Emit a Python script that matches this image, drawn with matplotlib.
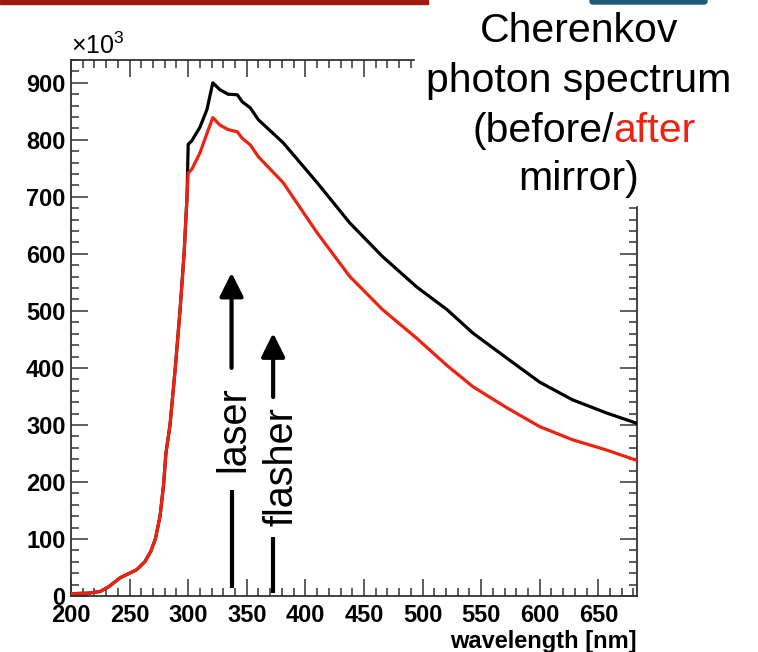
import matplotlib
matplotlib.use("Agg")
import matplotlib.pyplot as plt
from matplotlib.patches import FancyBboxPatch, Rectangle
from matplotlib.text import Annotation
from matplotlib.ticker import MultipleLocator


# ------------------------------------------
# Spectrum data (photons per nm, x10^3)
# ------------------------------------------

wavelength = [200, 215, 225, 232, 242, 250, 256, 263, 268, 272, 276, 279, 281,
              284.5, 289, 293, 296.5, 299, 300, 303, 310, 316, 321, 327, 334,
              342, 346, 353, 360, 381, 410, 438, 466, 495, 521, 543, 572, 600,
              628, 657, 684]

before_mirror = [4, 5, 8, 16, 32, 40, 46, 60, 78, 100, 140, 195, 250,
                 300, 400, 500, 600, 700, 792, 798, 822, 853, 900, 888, 880,
                 879, 867, 856, 835, 795, 725, 654, 595, 542, 502, 461, 417, 375,
                 344, 321, 302]

after_mirror = [4, 5, 8, 16, 32, 40, 46, 60, 78, 100, 140, 195, 250,
                300, 400, 500, 600, 700, 742, 748, 777, 811, 839, 826, 818,
                814, 803, 791, 770, 725, 637, 560, 502, 452, 404, 367, 330, 297,
                274, 256, 237]

# light sources used for calibration: (name, wavelength, tail, gap start, gap end, tip)
sources = [("laser", 337, 14, 186, 400, 567),
           ("flasher", 372.5, 5, 104, 349, 461)]
label_x = {"laser": 338.5, "flasher": 379.5}

RED = "#ee2211"
FONT = "Liberation Sans"


def draw_spectrum(ax):
    ax.plot(wavelength, before_mirror, color="black", lw=2.3, zorder=3)
    ax.plot(wavelength, after_mirror, color=RED, lw=2.3, zorder=3)

    ax.set_xlim(200, 683)
    ax.set_ylim(0, 940)
    ax.xaxis.set_major_locator(MultipleLocator(50))
    ax.xaxis.set_minor_locator(MultipleLocator(10))
    ax.yaxis.set_major_locator(MultipleLocator(100))
    ax.yaxis.set_minor_locator(MultipleLocator(20))
    ax.tick_params(which="both", direction="in", top=True, right=True,
                   color="#333333", width=1.1)
    ax.tick_params(which="major", length=12)
    ax.tick_params(which="minor", length=6)
    ax.tick_params(axis="y", pad=4)
    ax.tick_params(axis="x", pad=6)
    for lab in ax.get_xticklabels() + ax.get_yticklabels():
        lab.set_fontfamily(FONT)
        lab.set_fontweight("bold")
        lab.set_fontsize(17)
    for sp in ax.spines.values():
        sp.set_color("#333333")
        sp.set_linewidth(1.3)

    ax.set_xlabel("wavelength [nm]", loc="right", fontsize=17,
                  fontweight="bold", fontfamily=FONT, labelpad=2)
    ax.text(0.0, 1.002, r"$\times10^{3}$", transform=ax.transAxes,
            ha="left", va="bottom", fontsize=18)


def draw_sources(ax):
    for name, wl, tail, gap_lo, gap_hi, tip in sources:
        ax.plot([wl, wl], [tail, gap_lo], color="black", lw=3,
                solid_capstyle="butt", zorder=4)
        ax.annotate("", xy=(wl, tip), xytext=(wl, gap_hi),
                    arrowprops=dict(arrowstyle="-|>,head_length=0.4,head_width=0.2",
                                    lw=3, color="black", mutation_scale=36,
                                    shrinkA=0, shrinkB=0), zorder=4)
        ax.text(label_x[name], (gap_lo + gap_hi) / 2, name, rotation=90,
                ha="center", va="center", fontsize=28.5, fontfamily=FONT)


def draw_title(fig):
    # white panel behind the title hides the top-right corner of the frame
    fig.patches.append(Rectangle((415 / 758, 1 - 205 / 652), 343 / 758, 205 / 652,
                                 transform=fig.transFigure, color="white",
                                 zorder=1))
    kw = dict(fontsize=29.5, fontfamily=FONT, va="baseline", zorder=4)
    fig.text(0.7639, 0.9356, "Cherenkov", ha="center", **kw)
    fig.text(0.7639, 0.8589, "photon spectrum", ha="center", **kw)
    t1 = fig.text(0.6227, 0.782, "(before/", ha="left", **kw)
    # "after" in red, glued to the end of "(before/"
    ann = Annotation("after", xy=(1, 0), xycoords=t1, ha="left", va="bottom",
                     color=RED, fontsize=29.5, fontfamily=FONT,
                     annotation_clip=False)
    ann.set_zorder(4)
    fig.add_artist(ann)
    fig.text(0.7639, 0.7086, "mirror)", ha="center", **kw)


def draw_slide_bars(fig):
    fig.patches.append(Rectangle((0, 648 / 652), 428 / 758, 4 / 652,
                                 transform=fig.transFigure, color="#9e1a0c",
                                 zorder=2))
    fig.patches.append(FancyBboxPatch((590 / 758, 648 / 652), 117 / 758, 6 / 652,
                                      boxstyle="round,pad=0,rounding_size=0.004",
                                      transform=fig.transFigure,
                                      color="#1f5a78", zorder=2))


def main():
    plt.rcParams["mathtext.fontset"] = "custom"
    plt.rcParams["mathtext.rm"] = FONT
    plt.rcParams["mathtext.it"] = FONT

    fig = plt.figure(figsize=(7.58, 6.52), dpi=100)
    ax = fig.add_axes([71 / 758, 1 - 596 / 652, (637 - 71) / 758, (596 - 60) / 652])

    draw_spectrum(ax)
    draw_sources(ax)
    draw_title(fig)
    draw_slide_bars(fig)

    fig.savefig("out.png", dpi=100)


if __name__ == "__main__":
    main()
